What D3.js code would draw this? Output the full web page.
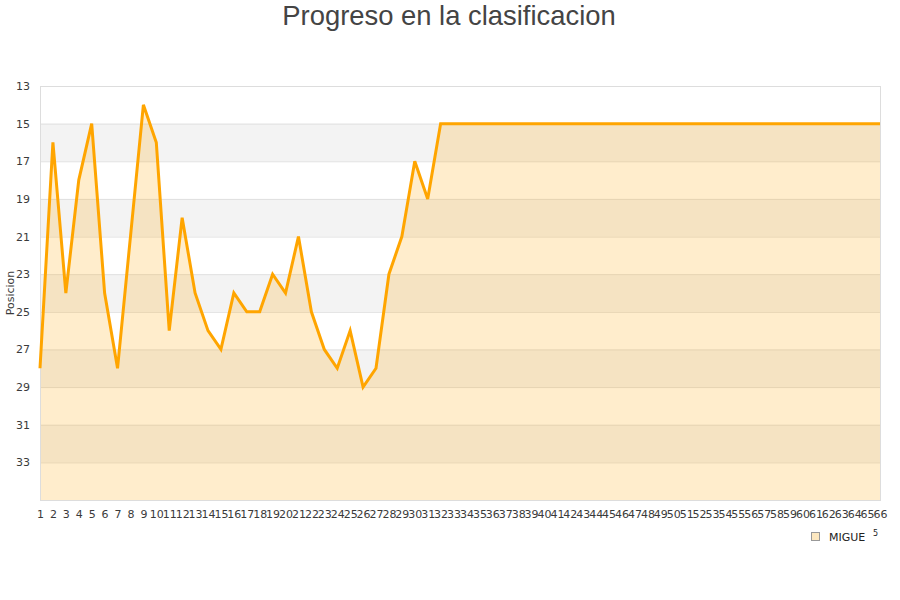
<!DOCTYPE html>
<html>
<head>
<meta charset="utf-8">
<script src="https://cdn.jsdelivr.net/npm/d3@7/dist/d3.min.js"></script>
<style>
  html, body { margin: 0; padding: 0; background: #fff; }
  svg { display: block; }
</style>
</head>
<body>
<svg id="chart" width="900" height="600"></svg>
<script>
const title = "Progreso en la clasificacion";
const yLabel = "Posicion";
const seriesName = "MIGUE";
const rounds = d3.range(1, 67);
const positions = [
  28, 16, 24, 18, 15, 24, 28, 21, 14, 16,
  26, 20, 24, 26, 27, 24, 25, 25, 23, 24,
  21, 25, 27, 28, 26, 29, 28, 23, 21, 17,
  19, 15, 15, 15, 15, 15, 15, 15, 15, 15,
  15, 15, 15, 15, 15, 15, 15, 15, 15, 15,
  15, 15, 15, 15, 15, 15, 15, 15, 15, 15,
  15, 15, 15, 15, 15, 15
];
const yTicks = [13, 15, 17, 19, 21, 23, 25, 27, 29, 31, 33];
const yDomain = [13, 35];

const svg = d3.select("#chart");
const m = { left: 40, right: 880, top: 86, bottom: 500 };

const x = d3.scaleLinear().domain([1, 66]).range([m.left, m.right]);
const y = d3.scaleLinear().domain(yDomain).range([m.top, m.bottom]);

// alternating bands
const bandStarts = d3.range(yDomain[0], yDomain[1], 2);
svg.append("g").selectAll("rect").data(bandStarts).join("rect")
  .attr("x", m.left).attr("width", m.right - m.left)
  .attr("y", d => y(d)).attr("height", d => y(d + 2) - y(d))
  .attr("fill", (d, i) => i % 2 === 1 ? "#f3f3f3" : "#ffffff");

// grid lines
svg.append("g").selectAll("line").data(yTicks.concat([35])).join("line")
  .attr("x1", m.left).attr("x2", m.right)
  .attr("y1", d => y(d) + 0.5).attr("y2", d => y(d) + 0.5)
  .attr("stroke", "#e0e0e0").attr("stroke-width", 1);

const data = rounds.map((r, i) => ({ r, p: positions[i] }));

// area
const area = d3.area()
  .x(d => x(d.r))
  .y0(y(yDomain[1]))
  .y1(d => y(d.p));
svg.append("path").datum(data)
  .attr("d", area)
  .attr("fill", "rgba(255,165,0,0.2)");

// plot border
svg.append("rect")
  .attr("x", m.left + 0.5).attr("y", m.top + 0.5)
  .attr("width", m.right - m.left).attr("height", m.bottom - m.top)
  .attr("fill", "none").attr("stroke", "#dddddd");

// line
const line = d3.line().x(d => x(d.r)).y(d => y(d.p));
svg.append("path").datum(data)
  .attr("d", line)
  .attr("fill", "none")
  .attr("stroke", "#ffa500")
  .attr("stroke-width", 3)
  .attr("stroke-linejoin", "miter");

// y axis
const yAxis = d3.axisLeft(y).tickValues(yTicks).tickSize(0).tickPadding(10);
const gy = svg.append("g").attr("transform", `translate(${m.left},0)`).call(yAxis);
gy.select(".domain").remove();
gy.selectAll("text")
  .attr("font-family", "DejaVu Sans, sans-serif")
  .attr("font-size", 11)
  .attr("fill", "#3a3a3a");

// x axis
const xAxis = d3.axisBottom(x).tickValues(rounds).tickFormat(d3.format("d")).tickSize(0).tickPadding(10);
const gx = svg.append("g").attr("transform", `translate(0,${m.bottom})`).call(xAxis);
gx.select(".domain").remove();
gx.selectAll("text")
  .attr("font-family", "DejaVu Sans, sans-serif")
  .attr("font-size", 11)
  .attr("fill", "#3a3a3a");

// title
svg.append("text")
  .attr("x", 449).attr("y", 25)
  .attr("text-anchor", "middle")
  .attr("font-family", "Liberation Sans, Arial, sans-serif")
  .attr("font-size", 27.4)
  .attr("fill", "#444")
  .text(title);

// y label
svg.append("text")
  .attr("transform", "translate(14,293) rotate(-90)")
  .attr("text-anchor", "middle")
  .attr("font-family", "DejaVu Sans, sans-serif")
  .attr("font-size", 11)
  .attr("fill", "#3a3a3a")
  .text(yLabel);

// legend
const lg = svg.append("g").attr("transform", "translate(811,532)");
lg.append("rect").attr("x", 0.5).attr("y", 0.5).attr("width", 8).attr("height", 8)
  .attr("fill", "#fde8c0").attr("stroke", "#999");
lg.append("text").attr("x", 18).attr("y", 9)
  .attr("font-family", "DejaVu Sans, sans-serif")
  .attr("font-size", 11).attr("fill", "#222")
  .text(seriesName);
lg.append("text").attr("x", 62).attr("y", 4)
  .attr("font-family", "DejaVu Sans, sans-serif")
  .attr("font-size", 8).attr("fill", "#222")
  .text("5");
</script>
</body>
</html>
